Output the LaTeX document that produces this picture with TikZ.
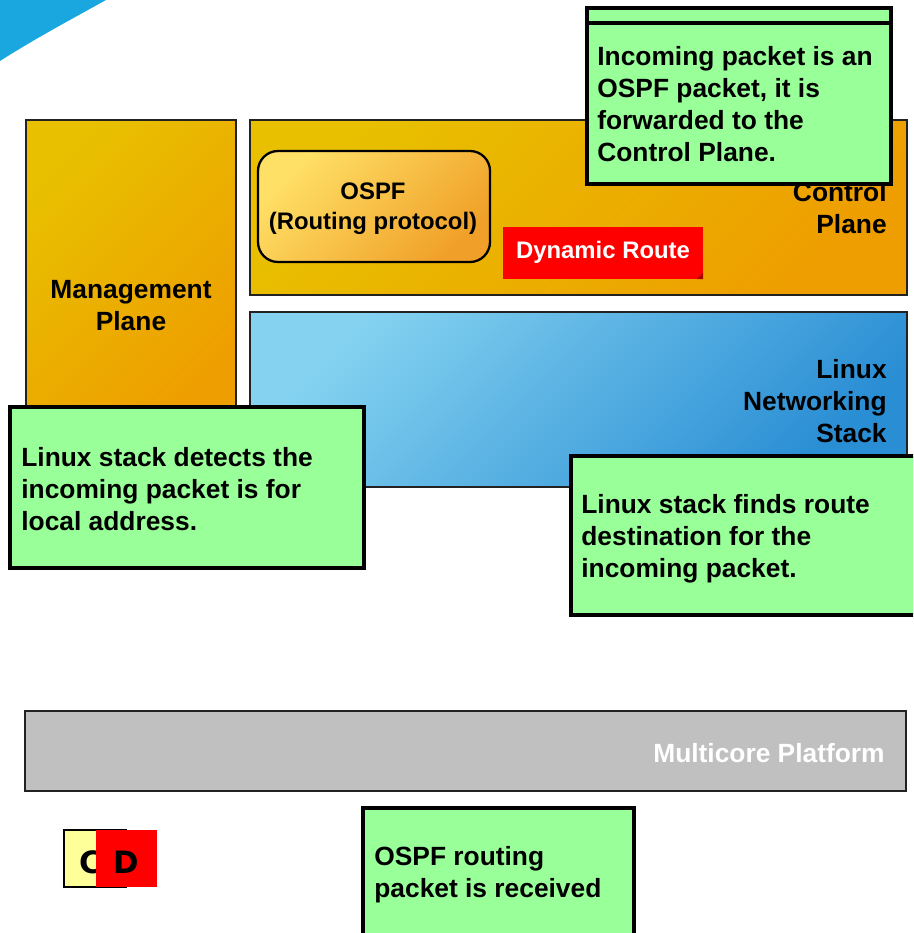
\documentclass[tikz,border=0pt]{standalone}
\usepackage{fontspec}
\setmainfont{Liberation Sans}
\newfontfamily\djv{DejaVu Sans}
\definecolor{swoosh}{HTML}{1AA7E0}
\definecolor{goldA}{HTML}{E8C000}
\definecolor{goldB}{HTML}{EE9E00}
\definecolor{ospfA}{HTML}{FFE066}
\definecolor{ospfB}{HTML}{F0A028}
\definecolor{blueA}{HTML}{84D2F0}
\definecolor{blueB}{HTML}{2A8ED4}
\definecolor{notegreen}{HTML}{99FF99}
\definecolor{platgray}{HTML}{C0C0C0}
\definecolor{routered}{HTML}{FF0000}
\definecolor{lightyellow}{HTML}{FFFF99}
\definecolor{edgegray}{HTML}{222222}
\begin{document}
\begin{tikzpicture}[x=0.02cm,y=-0.02cm,
  notebox/.style={fill=notegreen,draw=black,line width=2.3pt},
  planebox/.style={draw=edgegray,line width=1.1pt,top color=goldA,bottom color=goldB,shading angle=45},
  stackbox/.style={draw=edgegray,line width=1.1pt,top color=blueA,bottom color=blueB,shading angle=45},
  txt/.style={font=\fontsize{15}{18.14}\selectfont\bfseries,inner sep=0pt},
  smalltxt/.style={font=\fontsize{13.6}{17}\selectfont\bfseries,inner sep=0pt}]
\useasboundingbox (0,0) rectangle (913,933);
\clip (0,0) rectangle (913,933);
% blue swoosh
\fill[swoosh] (0,0) -- (106,0) .. controls (72,19) and (36,38) .. (0,61) -- cycle;
% management plane
\draw[planebox] (26,120) rectangle (236,425);
% control plane
\draw[planebox] (250,120) rectangle (907,295);
% OSPF box
\draw[draw=black,line width=1.3pt,rounded corners=20*0.02cm,top color=ospfA,bottom color=ospfB,shading angle=45] (258,151) rectangle (490,262);
\node[smalltxt,align=center,anchor=base] (ospf) at (373,229) {OSPF\\(Routing protocol)};
% dynamic route
\fill[routered] (503,227) rectangle (703,279);
\fill[red!65!black] (703,273) -- (703,279) -- (697,279) -- cycle;
\node[smalltxt,text=white,anchor=base] (route) at (603,258) {Dynamic Route};
% control plane label
\node[txt,align=right,anchor=base east] (ctrl) at (887,233) {Control\\Plane};
% linux networking stack
\draw[stackbox] (250,312) rectangle (907,487);
\node[txt,align=right,anchor=base east] (linux) at (887,442) {Linux\\Networking\\Stack};
% management label
\node[txt,align=center,anchor=base] (mgmt) at (131,330) {Management\\Plane};
% top note
\draw[notebox] (587,8) rectangle (891,184);
\draw[line width=2.3pt] (587,23) -- (891,23);
\node[txt,align=left,anchor=base west] (note1) at (597,161) {Incoming packet is an\\OSPF packet, it is\\forwarded to the\\Control Plane.};
% left note
\draw[notebox] (10,407) rectangle (364,568);
\node[txt,align=left,anchor=base west] (note2) at (21,530) {Linux stack detects the\\incoming packet is for\\local address.};
% right note
\draw[notebox] (571,456) rectangle (940,615);
\node[txt,align=left,anchor=base west] (note3) at (581,577) {Linux stack finds route\\destination for the\\incoming packet.};
% multicore platform
\draw[draw=edgegray,line width=1.1pt,fill=platgray] (25,711) rectangle (906,791);
\node[txt,text=white,anchor=base east] (plat) at (885,762) {Multicore Platform};
% bottom note
\draw[notebox] (363,808) rectangle (634,960);
\node[txt,align=left,anchor=base west] (note4) at (374,897) {OSPF routing\\packet is received};
% C / D markers
\draw[fill=lightyellow,draw=black,line width=1.1pt] (64,830) rectangle (126,887);
\node[font=\djv\fontsize{17.5}{20}\selectfont\bfseries,inner sep=0pt,anchor=base] (cmark) at (91,873) {C};
\fill[routered] (96,830) rectangle (157,887);
\node[font=\djv\fontsize{17.5}{20}\selectfont\bfseries,inner sep=0pt,anchor=base] (dmark) at (126,873) {D};
\end{tikzpicture}
\end{document}
